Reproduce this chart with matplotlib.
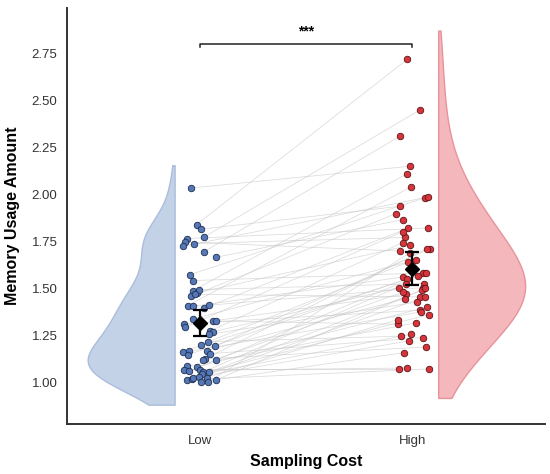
import numpy as np
import matplotlib
matplotlib.use('Agg')
import matplotlib.pyplot as plt

plt.rcParams['font.family'] = ['Liberation Sans', 'DejaVu Sans']

groups = ['Low', 'High']

# Low condition, one value per subject (same order as high)
low_vals = [2.033, 1.839, 1.814, 1.773, 1.764, 1.746, 1.723, 1.738, 1.695, 1.665,
            1.573, 1.541, 1.486, 1.475, 1.493, 1.457, 1.468, 1.408, 1.404, 1.395,
            1.410, 1.337, 1.312, 1.294, 1.326, 1.326, 1.273, 1.268, 1.255, 1.200,
            1.216, 1.191, 1.168, 1.152, 1.163, 1.165, 1.147, 1.124, 1.121, 1.121,
            1.085, 1.067, 1.058, 1.082, 1.064, 1.055, 1.057, 1.043, 1.014, 1.018,
            1.025, 1.028, 1.002, 1.025, 1.002, 1.011]
low_jit = [-0.042, -0.016, 0.005, 0.020, -0.063, -0.071, -0.079, -0.028, 0.020, 0.077,
           -0.046, -0.033, -0.035, -0.016, -0.003, -0.044, -0.022, -0.058, -0.035, 0.019,
           0.041, -0.031, -0.074, -0.069, 0.060, 0.075, 0.047, 0.060, 0.041, 0.005,
           0.038, 0.071, 0.031, 0.047, -0.079, -0.053, -0.055, 0.024, 0.016, 0.074,
           -0.063, -0.077, -0.053, -0.013, 0.000, 0.016, 0.042, 0.009, -0.063, -0.039,
           -0.031, -0.003, 0.005, 0.031, 0.039, 0.074]

# High condition
high_vals = [2.149, 2.718, 1.936, 2.447, 1.821, 1.698, 1.982, 1.770, 2.309, 1.865,
             1.986, 1.581, 2.108, 1.729, 1.525, 1.897, 1.454, 2.039, 1.560, 1.819,
             1.504, 1.652, 1.383, 1.801, 1.468, 1.309, 1.743, 1.504, 1.427, 1.640,
             1.245, 1.711, 1.445, 1.238, 1.581, 1.374, 1.550, 1.188, 1.711, 1.481,
             1.316, 1.069, 1.567, 1.401, 1.076, 1.525, 1.360, 1.255, 1.071, 1.489,
             1.220, 1.454, 1.158, 1.333, 1.690, 1.500]
high_jit = [-0.008, -0.022, -0.057, 0.035, 0.077, -0.057, 0.061, -0.033, -0.057, -0.044,
            0.074, 0.050, -0.025, -0.009, 0.058, -0.075, 0.038, -0.005, -0.041, -0.019,
            0.053, 0.019, 0.035, -0.044, -0.028, -0.068, -0.044, -0.060, 0.025, -0.017,
            -0.053, 0.085, -0.033, 0.053, 0.066, 0.041, -0.025, 0.066, 0.069, -0.041,
            0.019, -0.064, 0.030, 0.072, -0.022, -0.028, 0.080, -0.005, 0.080, 0.046,
            -0.016, 0.061, -0.036, -0.068, -0.009, 0.061]

pt_colors = ['#5577b5', '#d8343c']
pt_edges = ['#1f2f52', '#5a1518']
vio_fill = ['#c4d2e8', '#f3b7bc']
vio_edge = ['#aabddc', '#e8939a']
bw_adjust = [1.0, 1.25]


def kde(vals, grid, bw):
    d = np.exp(-0.5 * ((grid[:, None] - vals[None, :]) / bw) ** 2).sum(axis=1)
    return d / d.max()


fig = plt.figure(figsize=(5.5, 4.74), dpi=100)
ax = fig.add_axes([0.122, 0.105, 0.869, 0.878])

low = np.array(low_vals)
high = np.array(high_vals)
xl = 0 + np.array(low_jit)
xh = 1 + np.array(high_jit)

# paired lines
for i in range(len(low)):
    ax.plot([xl[i], xh[i]], [low[i], high[i]], color='#c4c4c4', lw=0.55, alpha=0.6, zorder=1)

# half violins
for k, vals in enumerate([low, high]):
    bw = vals.std(ddof=1) * len(vals) ** (-1 / 5)
    cut = bw
    bw = bw * bw_adjust[k]
    grid = np.linspace(vals.min() - cut, vals.max() + cut, 300)
    w = 0.41 * kde(vals, grid, bw)
    if k == 0:
        base = -0.12
        ax.fill_betweenx(grid, base - w, base, color=vio_fill[k], ec=vio_edge[k], lw=1, zorder=0)
    else:
        base = 1.123
        ax.fill_betweenx(grid, base, base + w, color=vio_fill[k], ec=vio_edge[k], lw=1, zorder=0)

# points
ax.scatter(xl, low, s=22, c=pt_colors[0], edgecolors=pt_edges[0], linewidths=0.6, zorder=3)
ax.scatter(xh, high, s=22, c=pt_colors[1], edgecolors=pt_edges[1], linewidths=0.6, zorder=3)

# mean +- 95% CI
for k, vals in enumerate([low, high]):
    m = vals.mean()
    ci = 1.96 * vals.std(ddof=1) / np.sqrt(len(vals))
    ax.errorbar(k, m, yerr=ci, fmt='D', color='black', ms=7, elinewidth=1.6,
                capsize=5, capthick=1.6, zorder=5)

# significance bracket
ax.plot([0, 0, 1, 1], [2.783, 2.80, 2.80, 2.783], color='#222222', lw=1.1)
ax.text(0.5, 2.83, '***', ha='center', va='bottom', fontsize=10, weight='bold')

ax.set_xlim(-0.627, 1.627)
ax.set_ylim(0.777, 2.99)
ax.set_xticks([0, 1])
ax.set_xticklabels(groups)
ax.set_yticks([1.00, 1.25, 1.50, 1.75, 2.00, 2.25, 2.50, 2.75])
ax.set_yticklabels(['%.2f' % v for v in ax.get_yticks()])
ax.tick_params(length=0, labelsize=9.5, colors='#333333')
ax.tick_params(axis='y', pad=7)
ax.tick_params(axis='x', pad=8)
for s in ['top', 'right']:
    ax.spines[s].set_visible(False)
for s in ['left', 'bottom']:
    ax.spines[s].set_linewidth(1.4)
    ax.spines[s].set_color('#333333')

ax.set_xlabel('Sampling Cost', fontsize=11.5, weight='bold', labelpad=5)
ax.set_ylabel('Memory Usage Amount', fontsize=11.5, weight='bold', labelpad=8)

fig.savefig('out.png', dpi=100)
